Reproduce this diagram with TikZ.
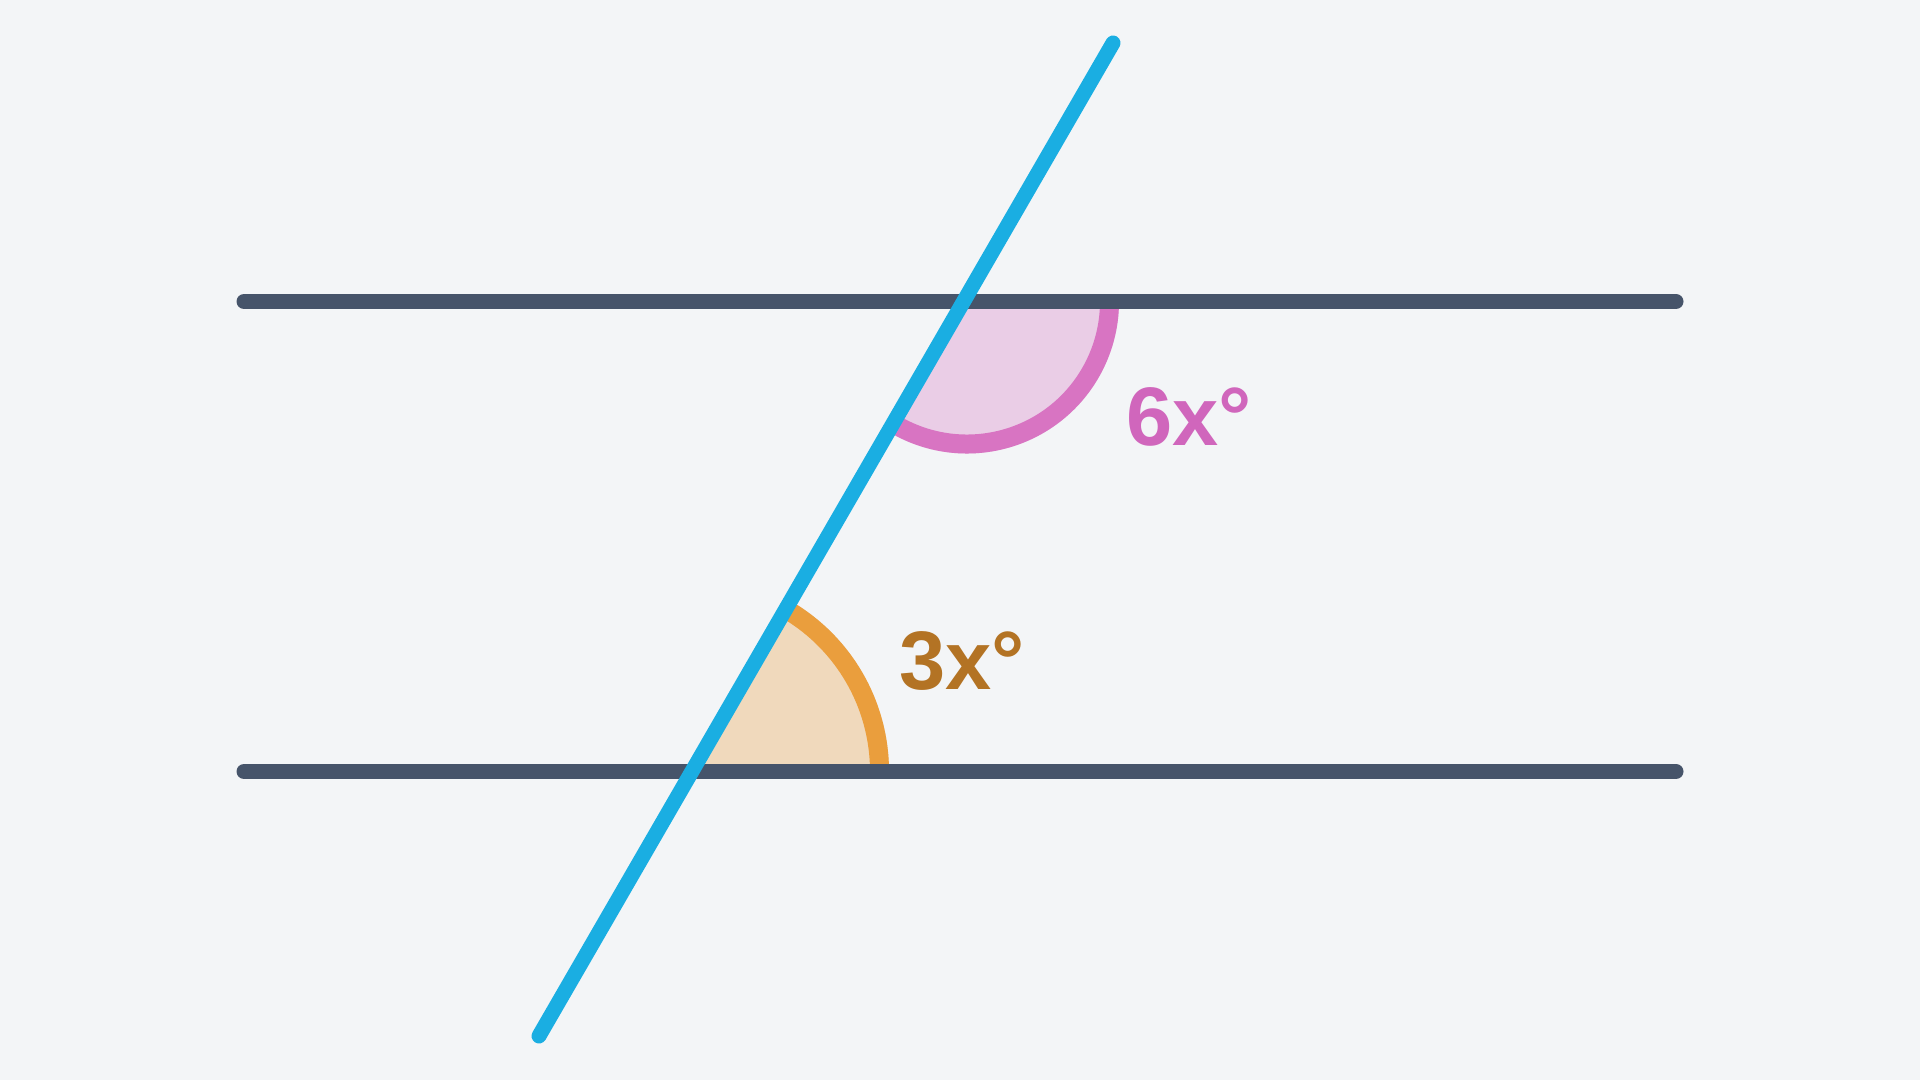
\documentclass[tikz,border=0pt]{standalone}
\usepackage{fontspec}
\setmainfont{Liberation Sans}
\definecolor{bgc}{HTML}{F3F5F7}
\definecolor{linec}{HTML}{46546A}
\definecolor{transc}{HTML}{1AAEE2}
\definecolor{pinkfill}{HTML}{EACDE6}
\definecolor{pinkline}{HTML}{D874C2}
\definecolor{pinktext}{HTML}{D066BC}
\definecolor{orfill}{HTML}{F0D9BC}
\definecolor{orline}{HTML}{EA9E3D}
\definecolor{ortext}{HTML}{B37324}
\begin{document}
\begin{tikzpicture}[x=1pt,y=1pt,
  parline/.style={draw=linec,line width=15pt,line cap=round},
  transline/.style={draw=transc,line width=15pt,line cap=round},
  anglelabel/.style={font=\fontsize{83}{83}\selectfont\bfseries,inner sep=0pt,anchor=base west}]
\useasboundingbox (0,0) rectangle (1920,1080);
\fill[bgc] (0,0) rectangle (1920,1080);
% points
\coordinate (tl) at (244,778.5);
\coordinate (tr) at (1676,778.5);
\coordinate (bl) at (244,308.5);
\coordinate (br) at (1676,308.5);
\coordinate (ta) at (1113,1037);
\coordinate (tb) at (539,44);
\coordinate (ti) at (967,778.5);
\coordinate (bi) at (692,308.5);
% pink sector
\fill[pinkfill] (ti) -- ++(240:152pt) arc[start angle=240,end angle=360,radius=152pt] -- cycle;
\draw[pinkline,line width=19pt] (ti) ++(240:142.5pt) arc[start angle=240,end angle=360,radius=142.5pt];
% orange sector
\fill[orfill] (bi) -- ++(0:197pt) arc[start angle=0,end angle=60,radius=197pt] -- cycle;
\draw[orline,line width=19pt] (bi) ++(0:187.5pt) arc[start angle=0,end angle=60,radius=187.5pt];
% lines
\draw[parline] (tl) -- (tr);
\draw[parline] (bl) -- (br);
\draw[transline] (tb) -- (ta);
% labels
\node[anglelabel,text=pinktext] (lab6) at (1126,634) {6x°};
\node[anglelabel,text=ortext] (lab3) at (899,390) {3x°};
\end{tikzpicture}
\end{document}
